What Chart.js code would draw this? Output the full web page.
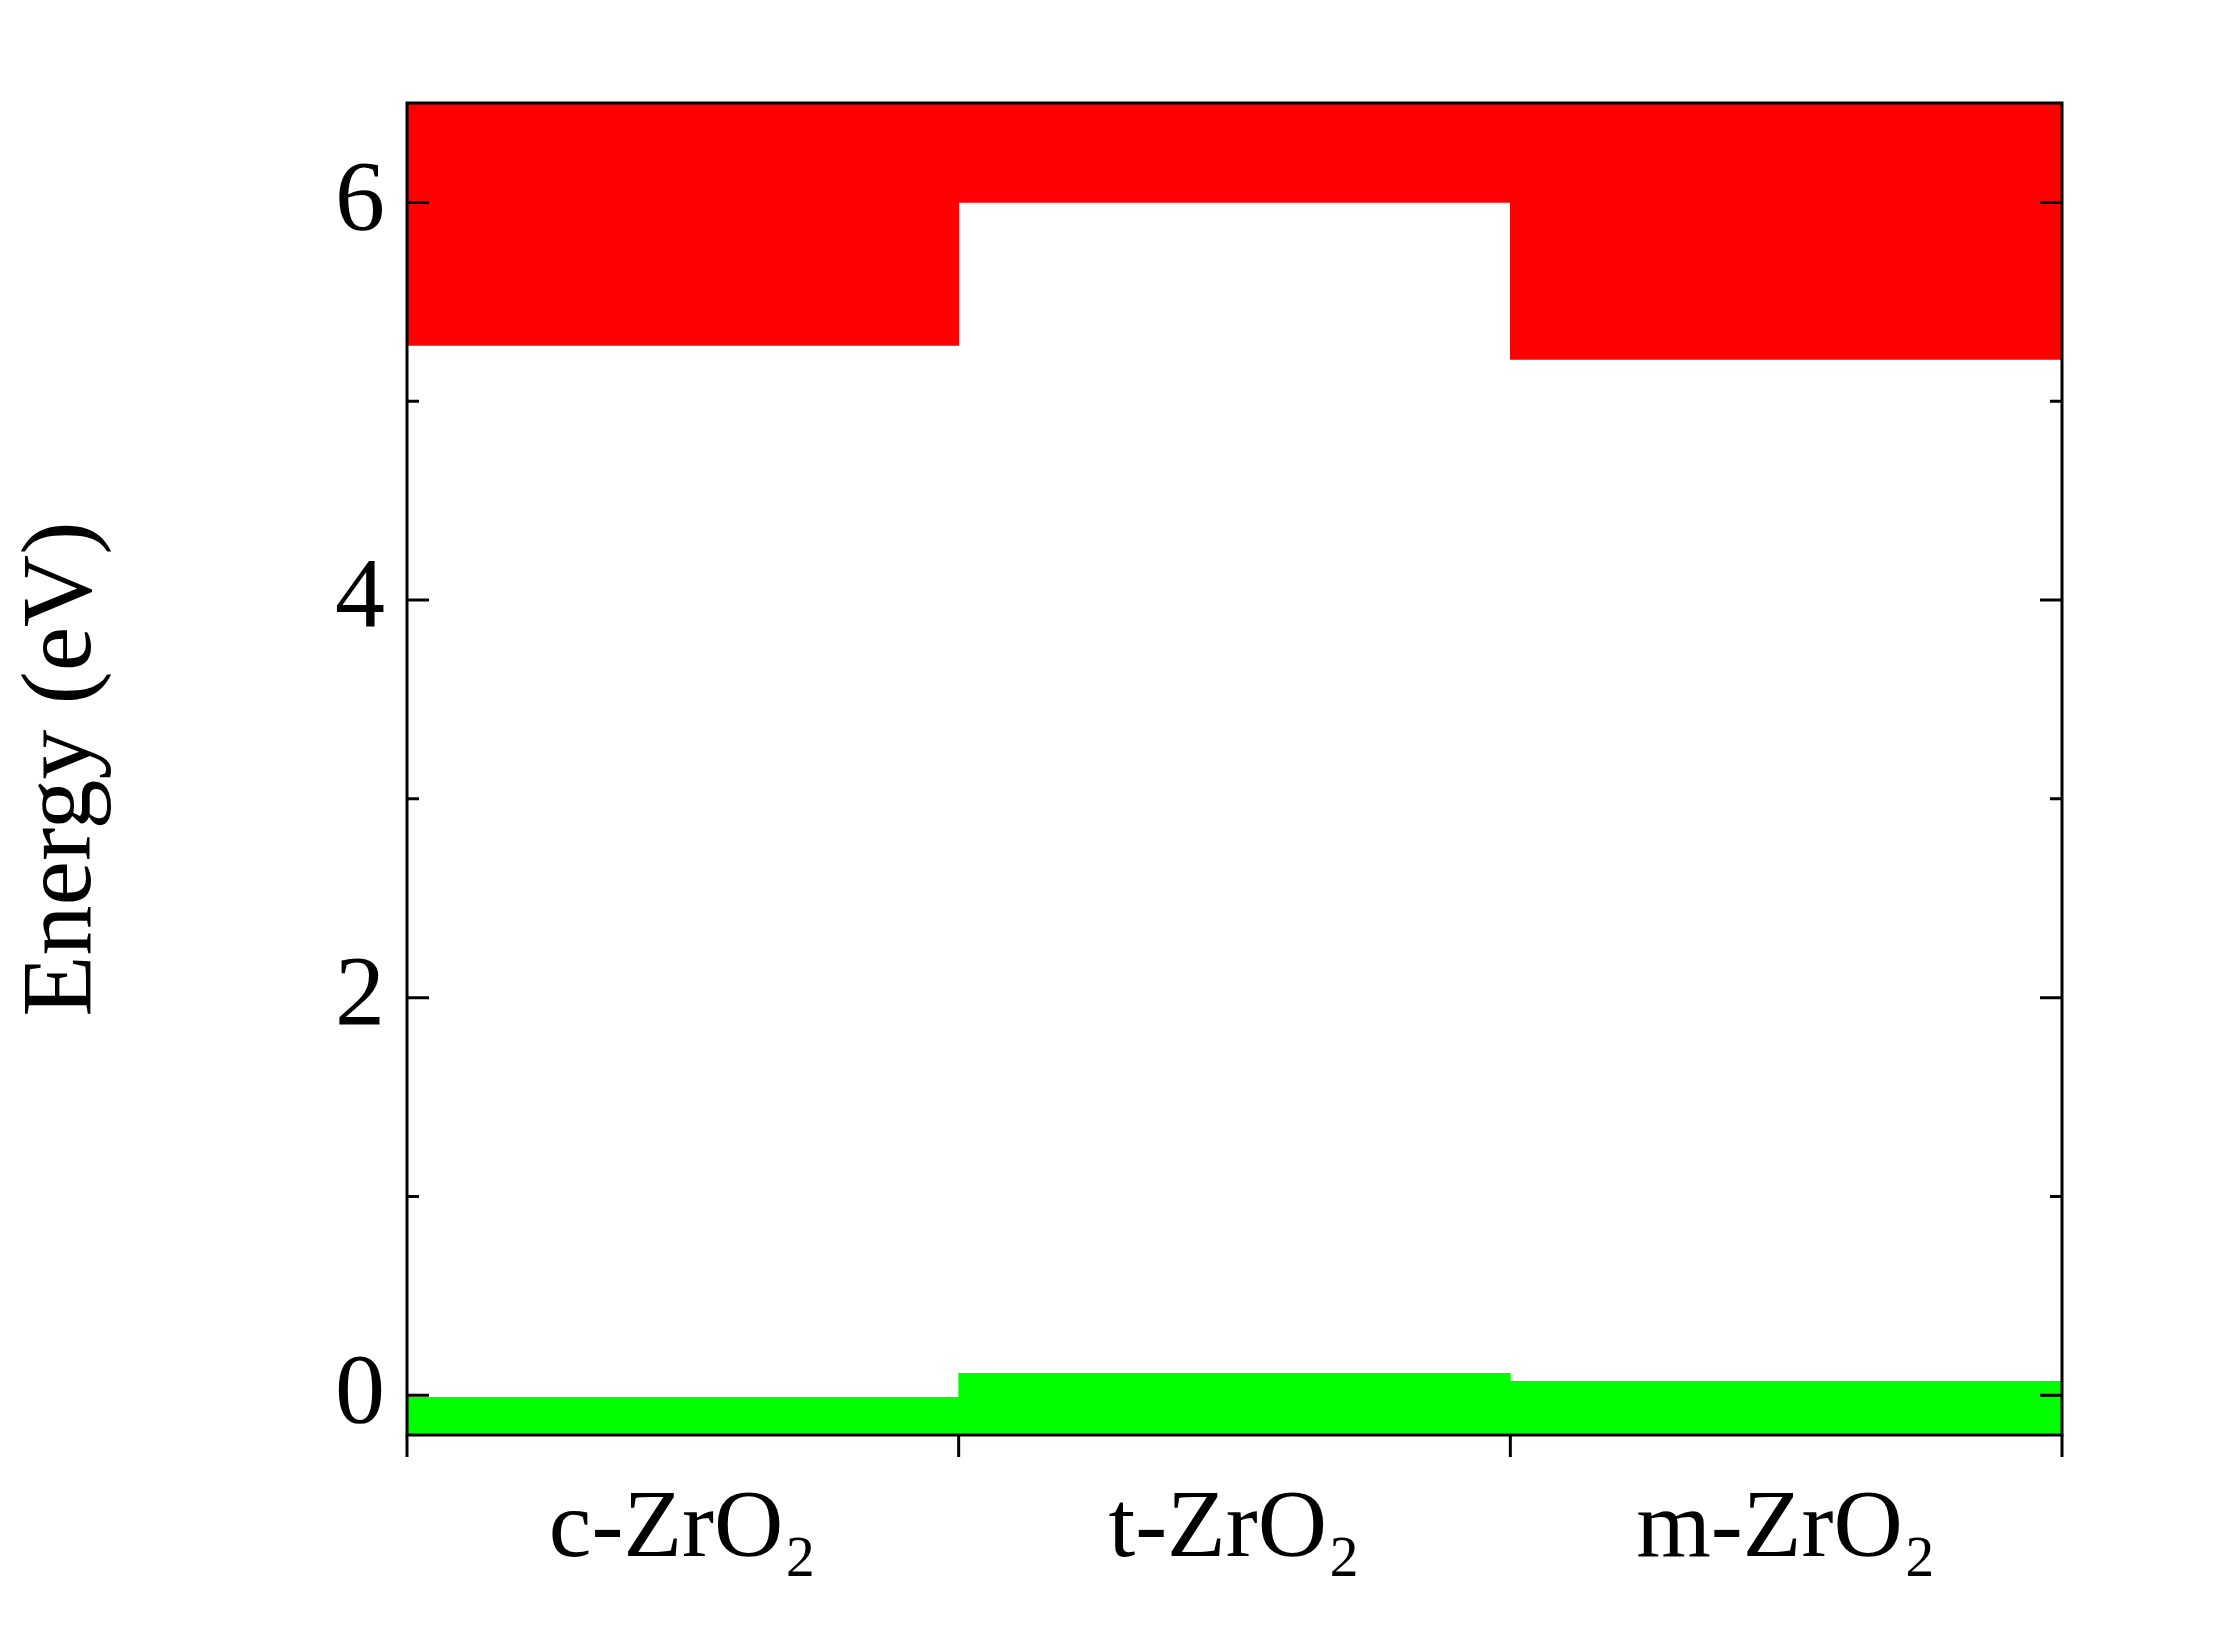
<!DOCTYPE html>
<html>
<head>
<meta charset="utf-8">
<script src="https://cdn.jsdelivr.net/npm/chart.js@4/dist/chart.umd.min.js"></script>
<style>
  body { margin: 0; background: #fff; }
  canvas { display: block; }
</style>
</head>
<body>
<canvas id="bandChart" width="2221" height="1626"></canvas>
<script>
// phases and band edges (eV)
const phases = ['c-ZrO\u2082', 't-ZrO\u2082', 'm-ZrO\u2082'];
const cbMin = [5.28, 6.0, 5.21];
const cbTop = [6.5, 6.5, 6.5];
const vbMax = [-0.01, 0.11, 0.07];
const vbBottom = [-0.2, -0.2, -0.2];
const yTicks = [0, 2, 4, 6];
const yMinor = [1, 3, 5];

// inward y ticks on both sides, outward x ticks at category boundaries
const tickPlugin = {
  id: 'ticks',
  afterDraw(chart) {
    const ctx = chart.ctx, a = chart.chartArea;
    const ys = chart.scales.y, xs = chart.scales.x;
    ctx.save();
    ctx.strokeStyle = '#000';
    ctx.lineWidth = 3;
    ctx.strokeRect(a.left, a.top, a.right - a.left, a.bottom - a.top);
    const drawY = (v, len) => {
      const y = ys.getPixelForValue(v);
      ctx.beginPath();
      ctx.moveTo(a.left, y); ctx.lineTo(a.left + len, y);
      ctx.moveTo(a.right, y); ctx.lineTo(a.right - len, y);
      ctx.stroke();
    };
    yTicks.forEach(v => drawY(v, 22));
    yMinor.forEach(v => drawY(v, 12));
    for (let i = 0; i <= phases.length; i++) {
      const x = xs.getPixelForValue(i - 0.5);
      ctx.beginPath();
      ctx.moveTo(x, a.bottom); ctx.lineTo(x, a.bottom + 22);
      ctx.stroke();
    }
    ctx.restore();
  }
};

new Chart(document.getElementById('bandChart'), {
  type: 'bar',
  data: {
    labels: phases,
    datasets: [
      {
        label: 'CB',
        data: cbMin.map((v, i) => [v, cbTop[i]]),
        backgroundColor: '#ff0000',
        grouped: false,
        barPercentage: 1,
        categoryPercentage: 1
      },
      {
        label: 'VB',
        data: vbMax.map((v, i) => [vbBottom[i], v]),
        backgroundColor: '#00ff00',
        grouped: false,
        barPercentage: 1,
        categoryPercentage: 1
      }
    ]
  },
  options: {
    responsive: false,
    animation: false,
    layout: { padding: { top: 103, right: 159, left: 0, bottom: 0 } },
    plugins: { legend: { display: false }, tooltip: { enabled: false } },
    scales: {
      x: {
        grid: { display: false },
        border: { display: false },
        ticks: {
          color: '#000',
          padding: 30,
          font: { family: 'Liberation Serif', size: 96 }
        },
        afterFit(scale) { scale.height = 191; }
      },
      y: {
        min: -0.2,
        max: 6.5,
        grid: { display: false },
        border: { display: false },
        afterBuildTicks(scale) { scale.ticks = yTicks.map(v => ({ value: v })); },
        ticks: {
          color: '#000',
          padding: 14,
          font: { family: 'Liberation Serif', size: 100 }
        },
        title: {
          display: true,
          text: 'Energy (eV)',
          color: '#000',
          padding: { bottom: 20 },
          font: { family: 'Liberation Serif', size: 100 }
        },
        afterFit(scale) { scale.width = 407; }
      }
    }
  },
  plugins: [tickPlugin]
});
</script>
</body>
</html>
